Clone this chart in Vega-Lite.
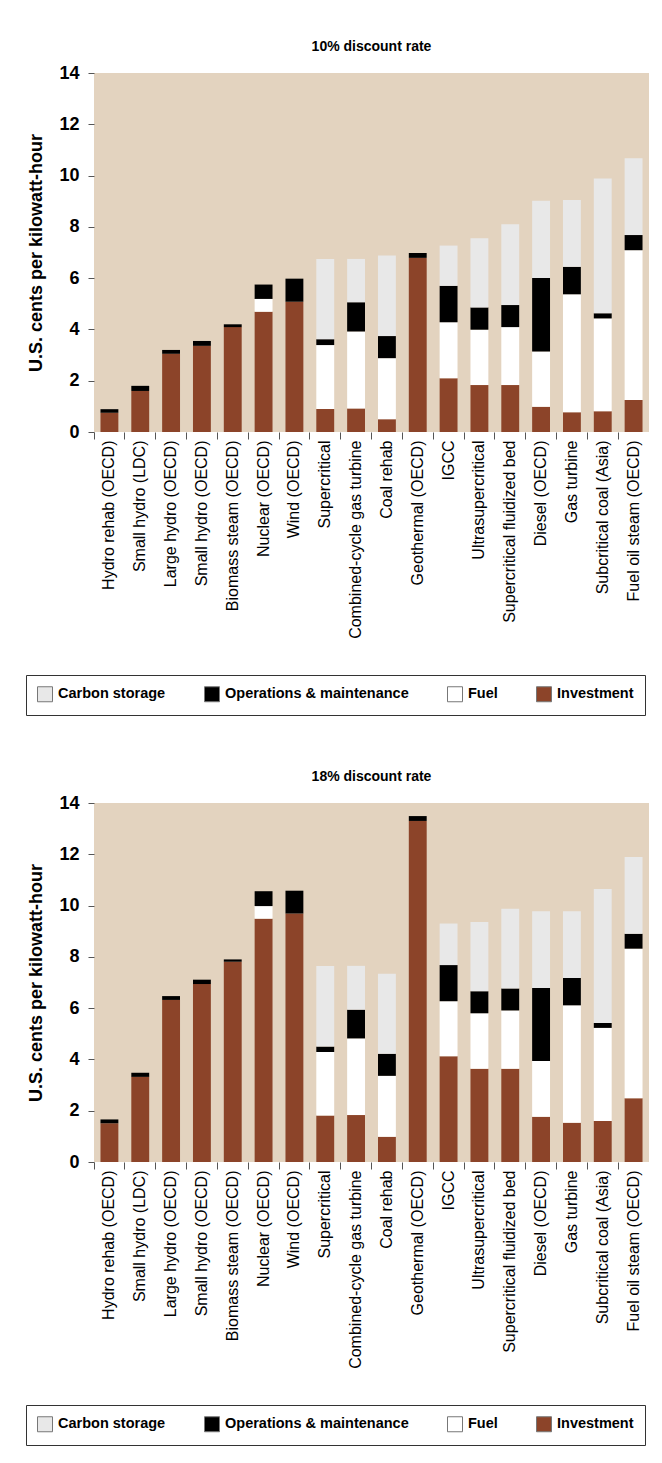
{
  "$schema": "https://vega.github.io/schema/vega-lite/v6.json",
  "background": "white",
  "padding": {"left": 25, "top": 40, "right": 5, "bottom": 5},
  "datasets": {
    "costs": [
      {"rate": "10%", "tech": "Hydro rehab (OECD)", "Investment": 0.75, "Fuel": 0, "Operations & maintenance": 0.14, "Carbon storage": 0},
      {"rate": "10%", "tech": "Small hydro (LDC)", "Investment": 1.6, "Fuel": 0, "Operations & maintenance": 0.2, "Carbon storage": 0},
      {"rate": "10%", "tech": "Large hydro (OECD)", "Investment": 3.05, "Fuel": 0, "Operations & maintenance": 0.15, "Carbon storage": 0},
      {"rate": "10%", "tech": "Small hydro (OECD)", "Investment": 3.36, "Fuel": 0, "Operations & maintenance": 0.19, "Carbon storage": 0},
      {"rate": "10%", "tech": "Biomass steam (OECD)", "Investment": 4.09, "Fuel": 0, "Operations & maintenance": 0.11, "Carbon storage": 0},
      {"rate": "10%", "tech": "Nuclear (OECD)", "Investment": 4.69, "Fuel": 0.5, "Operations & maintenance": 0.56, "Carbon storage": 0},
      {"rate": "10%", "tech": "Wind (OECD)", "Investment": 5.08, "Fuel": 0, "Operations & maintenance": 0.9, "Carbon storage": 0},
      {"rate": "10%", "tech": "Supercritical", "Investment": 0.9, "Fuel": 2.49, "Operations & maintenance": 0.23, "Carbon storage": 3.13},
      {"rate": "10%", "tech": "Combined-cycle gas turbine", "Investment": 0.92, "Fuel": 3.0, "Operations & maintenance": 1.14, "Carbon storage": 1.69},
      {"rate": "10%", "tech": "Coal rehab", "Investment": 0.5, "Fuel": 2.38, "Operations & maintenance": 0.86, "Carbon storage": 3.14},
      {"rate": "10%", "tech": "Geothermal (OECD)", "Investment": 6.79, "Fuel": 0, "Operations & maintenance": 0.19, "Carbon storage": 0},
      {"rate": "10%", "tech": "IGCC", "Investment": 2.1, "Fuel": 2.18, "Operations & maintenance": 1.42, "Carbon storage": 1.57},
      {"rate": "10%", "tech": "Ultrasupercritical", "Investment": 1.83, "Fuel": 2.16, "Operations & maintenance": 0.87, "Carbon storage": 2.7},
      {"rate": "10%", "tech": "Supercritical fluidized bed", "Investment": 1.83, "Fuel": 2.26, "Operations & maintenance": 0.86, "Carbon storage": 3.15},
      {"rate": "10%", "tech": "Diesel (OECD)", "Investment": 0.98, "Fuel": 2.16, "Operations & maintenance": 2.87, "Carbon storage": 3.01},
      {"rate": "10%", "tech": "Gas turbine", "Investment": 0.77, "Fuel": 4.6, "Operations & maintenance": 1.07, "Carbon storage": 2.61},
      {"rate": "10%", "tech": "Subcritical coal (Asia)", "Investment": 0.81, "Fuel": 3.62, "Operations & maintenance": 0.2, "Carbon storage": 5.26},
      {"rate": "10%", "tech": "Fuel oil steam (OECD)", "Investment": 1.25, "Fuel": 5.84, "Operations & maintenance": 0.59, "Carbon storage": 3.0},
      {"rate": "18%", "tech": "Hydro rehab (OECD)", "Investment": 1.51, "Fuel": 0, "Operations & maintenance": 0.15, "Carbon storage": 0},
      {"rate": "18%", "tech": "Small hydro (LDC)", "Investment": 3.32, "Fuel": 0, "Operations & maintenance": 0.16, "Carbon storage": 0},
      {"rate": "18%", "tech": "Large hydro (OECD)", "Investment": 6.32, "Fuel": 0, "Operations & maintenance": 0.15, "Carbon storage": 0},
      {"rate": "18%", "tech": "Small hydro (OECD)", "Investment": 6.94, "Fuel": 0, "Operations & maintenance": 0.17, "Carbon storage": 0},
      {"rate": "18%", "tech": "Biomass steam (OECD)", "Investment": 7.81, "Fuel": 0, "Operations & maintenance": 0.09, "Carbon storage": 0},
      {"rate": "18%", "tech": "Nuclear (OECD)", "Investment": 9.49, "Fuel": 0.49, "Operations & maintenance": 0.58, "Carbon storage": 0},
      {"rate": "18%", "tech": "Wind (OECD)", "Investment": 9.69, "Fuel": 0, "Operations & maintenance": 0.89, "Carbon storage": 0},
      {"rate": "18%", "tech": "Supercritical", "Investment": 1.81, "Fuel": 2.48, "Operations & maintenance": 0.21, "Carbon storage": 3.14},
      {"rate": "18%", "tech": "Combined-cycle gas turbine", "Investment": 1.83, "Fuel": 2.99, "Operations & maintenance": 1.12, "Carbon storage": 1.71},
      {"rate": "18%", "tech": "Coal rehab", "Investment": 0.98, "Fuel": 2.38, "Operations & maintenance": 0.86, "Carbon storage": 3.12},
      {"rate": "18%", "tech": "Geothermal (OECD)", "Investment": 13.3, "Fuel": 0, "Operations & maintenance": 0.19, "Carbon storage": 0},
      {"rate": "18%", "tech": "IGCC", "Investment": 4.12, "Fuel": 2.15, "Operations & maintenance": 1.41, "Carbon storage": 1.62},
      {"rate": "18%", "tech": "Ultrasupercritical", "Investment": 3.64, "Fuel": 2.16, "Operations & maintenance": 0.86, "Carbon storage": 2.7},
      {"rate": "18%", "tech": "Supercritical fluidized bed", "Investment": 3.64, "Fuel": 2.27, "Operations & maintenance": 0.86, "Carbon storage": 3.11},
      {"rate": "18%", "tech": "Diesel (OECD)", "Investment": 1.76, "Fuel": 2.18, "Operations & maintenance": 2.85, "Carbon storage": 2.99},
      {"rate": "18%", "tech": "Gas turbine", "Investment": 1.53, "Fuel": 4.58, "Operations & maintenance": 1.07, "Carbon storage": 2.6},
      {"rate": "18%", "tech": "Subcritical coal (Asia)", "Investment": 1.6, "Fuel": 3.63, "Operations & maintenance": 0.19, "Carbon storage": 5.23},
      {"rate": "18%", "tech": "Fuel oil steam (OECD)", "Investment": 2.49, "Fuel": 5.83, "Operations & maintenance": 0.58, "Carbon storage": 2.99}
    ]
  },
  "vconcat": [
    {
      "title": {"text": "10% discount rate"},
      "width": 555,
      "height": 359,
      "data": {"name": "costs"},
      "transform": [
        {"filter": "datum.rate == '10%'"},
        {"fold": ["Investment", "Fuel", "Operations & maintenance", "Carbon storage"], "as": ["component", "cents"]},
        {"window": [{"op": "row_number", "as": "layer"}], "groupby": ["tech"]}
      ],
      "mark": {"type": "bar", "width": {"band": 0.58}},
      "encoding": {
        "x": {"field": "tech", "type": "nominal", "sort": null, "title": null,
              "scale": {"paddingInner": 0, "paddingOuter": 0}},
        "y": {"field": "cents", "type": "quantitative", "stack": "zero",
              "scale": {"domain": [0, 14], "nice": false},
              "axis": {"values": [0, 2, 4, 6, 8, 10, 12, 14]},
              "title": "U.S. cents per kilowatt-hour"},
        "color": {"field": "component", "type": "nominal",
                  "scale": {"domain": ["Carbon storage", "Operations & maintenance", "Fuel", "Investment"],
                            "range": ["#e8e8e8", "#000000", "#ffffff", "#8c4429"]},
                  "legend": {"orient": "none", "legendX": -68, "legendY": 602}},
        "order": {"field": "layer", "type": "quantitative"}
      }
    },
    {
      "title": {"text": "18% discount rate"},
      "width": 555,
      "height": 359,
      "data": {"name": "costs"},
      "transform": [
        {"filter": "datum.rate == '18%'"},
        {"fold": ["Investment", "Fuel", "Operations & maintenance", "Carbon storage"], "as": ["component", "cents"]},
        {"window": [{"op": "row_number", "as": "layer"}], "groupby": ["tech"]}
      ],
      "mark": {"type": "bar", "width": {"band": 0.58}},
      "encoding": {
        "x": {"field": "tech", "type": "nominal", "sort": null, "title": null,
              "scale": {"paddingInner": 0, "paddingOuter": 0}},
        "y": {"field": "cents", "type": "quantitative", "stack": "zero",
              "scale": {"domain": [0, 14], "nice": false},
              "axis": {"values": [0, 2, 4, 6, 8, 10, 12, 14]},
              "title": "U.S. cents per kilowatt-hour"},
        "color": {"field": "component", "type": "nominal",
                  "scale": {"domain": ["Carbon storage", "Operations & maintenance", "Fuel", "Investment"],
                            "range": ["#e8e8e8", "#000000", "#ffffff", "#8c4429"]},
                  "legend": {"orient": "none", "legendX": -68, "legendY": 602}},
        "order": {"field": "layer", "type": "quantitative"}
      }
    }
  ],
  "spacing": 54,
  "resolve": {"legend": {"color": "independent"}, "scale": {"color": "independent"}},
  "config": {
    "font": "Liberation Sans",
    "view": {"fill": "#e3d3bf", "stroke": null},
    "title": {"font": "Liberation Sans", "fontSize": 14, "fontWeight": "bold", "color": "#000", "anchor": "middle", "frame": "group", "offset": 10},
    "axisY": {"domain": false, "grid": false, "tickColor": "#555", "tickSize": 6, "tickWidth": 1,
              "labelFont": "Liberation Sans", "labelFontSize": 18, "labelFontWeight": "bold", "labelColor": "#000", "labelPadding": 9,
              "titleFont": "Liberation Sans", "titleFontSize": 18, "titleFontWeight": "bold", "titleColor": "#000", "titlePadding": 13},
    "axisX": {"domain": false, "grid": false, "bandPosition": 0, "tickColor": "#555", "tickSize": 7, "tickWidth": 1,
              "labelAngle": -90, "labelLimit": 0, "labelFont": "Liberation Sans", "labelFontSize": 16, "labelColor": "#000", "labelPadding": 1},
    "legend": {"direction": "horizontal", "title": null, "strokeColor": "#333", "strokeWidth": 1, "padding": 11,
               "symbolType": "square", "symbolSize": 225, "symbolStrokeColor": "#777", "symbolStrokeWidth": 1,
               "labelFont": "Liberation Sans", "labelFontSize": 14.5, "labelFontWeight": "bold", "labelLimit": 0,
               "labelColor": "#000", "labelOffset": 5, "columnPadding": 36, "symbolOpacity": 1}
  }
}
